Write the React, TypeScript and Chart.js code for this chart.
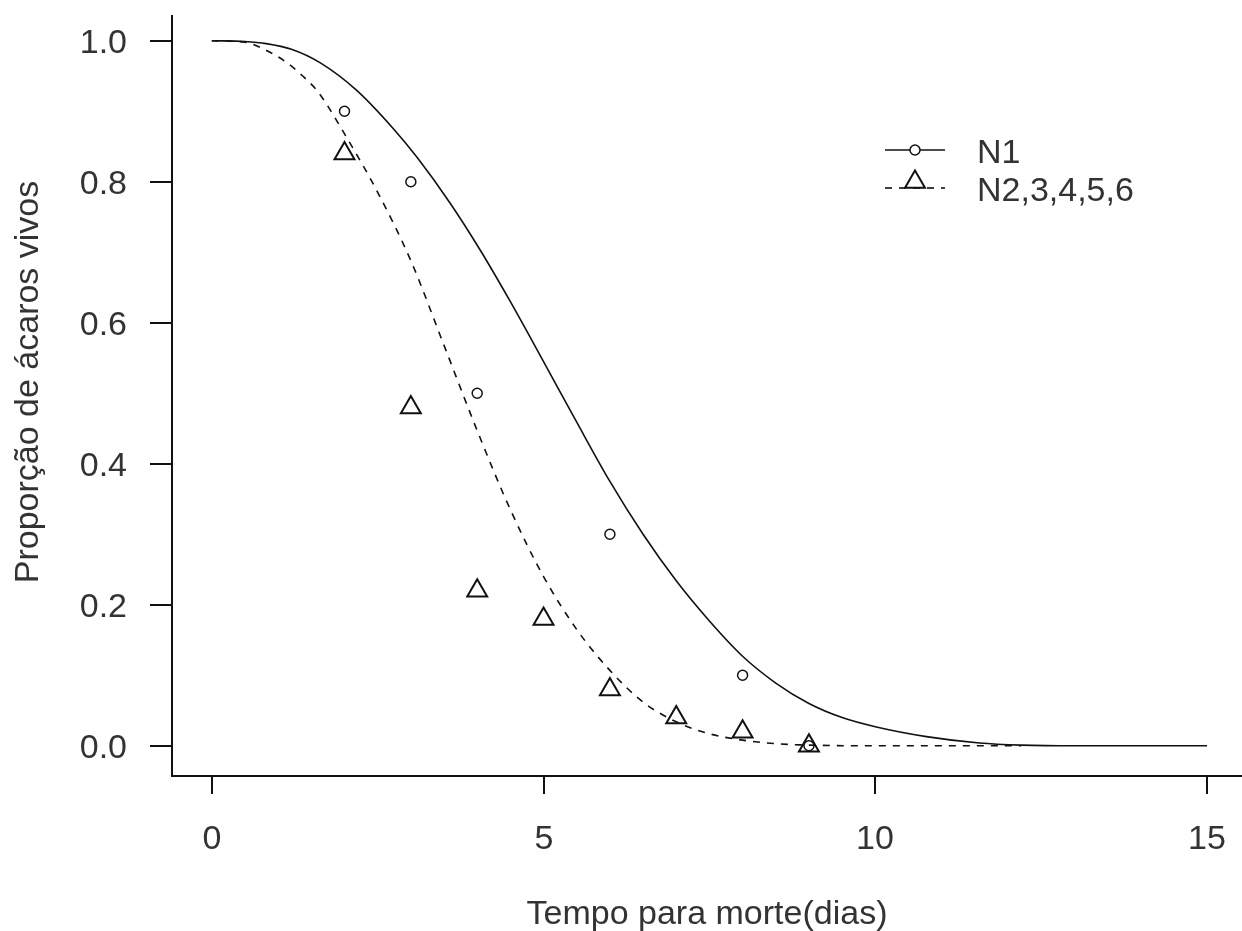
import React, { useEffect, useRef } from "react";
import { Chart, registerables } from "chart.js";

Chart.register(...registerables);

// Fitted survival curves (time in days, proportion alive)
const n1CurveT = [0, 0.5, 0.82, 1.2, 1.63, 2.18, 2.73, 3.09, 3.59, 4.04, 4.5, 5.0, 5.5, 6.0, 6.5, 7.0, 7.5, 8.0, 8.5, 9.0, 9.5, 10.0, 10.77, 11.57, 12.2, 13, 15];
const n1CurveS = [1.0, 0.999, 0.996, 0.988, 0.969, 0.93, 0.876, 0.835, 0.77, 0.704, 0.63, 0.545, 0.459, 0.375, 0.3, 0.234, 0.177, 0.127, 0.089, 0.06, 0.04, 0.027, 0.013, 0.004, 0.001, 0, 0];

const n2CurveT = [0, 0.5, 0.87, 1.13, 1.37, 1.58, 1.73, 2.0, 2.5, 3.0, 3.5, 4.0, 4.5, 5.0, 5.5, 6.0, 6.5, 7.0, 7.5, 8.0, 8.5, 9.0, 10, 11, 12.2];
const n2CurveS = [1.0, 0.998, 0.984, 0.969, 0.95, 0.93, 0.91, 0.868, 0.785, 0.688, 0.568, 0.447, 0.335, 0.24, 0.165, 0.107, 0.062, 0.034, 0.017, 0.008, 0.003, 0.001, 0, 0, 0];

// Observed proportions
const n1Days = [2, 3, 4, 6, 8, 9];
const n1Obs = [0.9, 0.8, 0.5, 0.3, 0.1, 0.0];
const n2Days = [2, 3, 4, 5, 6, 7, 8, 9];
const n2Obs = [0.84, 0.48, 0.22, 0.18, 0.08, 0.04, 0.02, 0.0];

// Axis ticks and labels
const xTicks = [0, 5, 10, 15];
const xTickLabels = ["0", "5", "10", "15"];
const yTicks = [0, 0.2, 0.4, 0.6, 0.8, 1.0];
const yTickLabels = ["0.0", "0.2", "0.4", "0.6", "0.8", "1.0"];
const xTitle = "Tempo para morte(dias)";
const yTitle = "Proporção de ácaros vivos";
const legendLabels = ["N1", "N2,3,4,5,6"];

const FONT = '34px "Liberation Sans", Arial, sans-serif';
const TEXT = "#333";
const INK = "#111";

const toPoints = (xs: number[], ys: number[]) => xs.map((x, i) => ({ x, y: ys[i] }));

function drawTriangle(ctx: CanvasRenderingContext2D, x: number, y: number, r: number) {
  const s = Math.sin(Math.PI / 3) * r;
  ctx.beginPath();
  ctx.moveTo(x, y - r);
  ctx.lineTo(x + s, y + r / 2);
  ctx.lineTo(x - s, y + r / 2);
  ctx.closePath();
  ctx.stroke();
}

const axesPlugin = {
  id: "baseAxes",
  afterDraw(chart: any) {
    const ctx: CanvasRenderingContext2D = chart.ctx;
    const xs = chart.scales.x;
    const ys = chart.scales.y;
    const area = chart.chartArea;
    const axisY = 776;
    const axisX = 172;
    ctx.save();
    ctx.strokeStyle = INK;
    ctx.lineWidth = 2;
    ctx.setLineDash([]);
    // axis lines
    ctx.beginPath();
    ctx.moveTo(axisX, area.top + 2);
    ctx.lineTo(axisX, axisY);
    ctx.lineTo(chart.width, axisY);
    ctx.stroke();
    // x ticks
    ctx.font = FONT;
    ctx.fillStyle = TEXT;
    ctx.textAlign = "center";
    ctx.textBaseline = "alphabetic";
    xTicks.forEach((v, i) => {
      const px = Math.round(xs.getPixelForValue(v));
      ctx.beginPath();
      ctx.moveTo(px, axisY);
      ctx.lineTo(px, axisY + 18);
      ctx.stroke();
      ctx.fillText(xTickLabels[i], px, 849);
    });
    // y ticks
    ctx.textAlign = "right";
    yTicks.forEach((v, i) => {
      const py = Math.round(ys.getPixelForValue(v));
      ctx.beginPath();
      ctx.moveTo(axisX, py);
      ctx.lineTo(axisX - 22, py);
      ctx.stroke();
      ctx.fillText(yTickLabels[i], 127, py + 12);
    });
    // axis titles
    ctx.textAlign = "center";
    ctx.fillText(xTitle, 707, 924);
    ctx.save();
    ctx.translate(38, 382);
    ctx.rotate(-Math.PI / 2);
    ctx.fillText(yTitle, 0, 0);
    ctx.restore();

    // legend
    ctx.lineWidth = 1.6;
    ctx.strokeStyle = INK;
    ctx.beginPath();
    ctx.moveTo(885, 150);
    ctx.lineTo(945, 150);
    ctx.stroke();
    ctx.fillStyle = "#fff";
    ctx.beginPath();
    ctx.arc(915, 150, 5, 0, Math.PI * 2);
    ctx.fill();
    ctx.lineWidth = 1.5;
    ctx.stroke();

    ctx.lineWidth = 1.6;
    ctx.setLineDash([7, 7]);
    ctx.beginPath();
    ctx.moveTo(885, 188);
    ctx.lineTo(945, 188);
    ctx.stroke();
    ctx.setLineDash([]);
    ctx.lineWidth = 2;
    drawTriangle(ctx, 915, 182, 11.5);

    ctx.fillStyle = TEXT;
    ctx.textAlign = "left";
    ctx.fillText(legendLabels[0], 977, 163);
    ctx.fillText(legendLabels[1], 977, 201);
    ctx.restore();
  },
};

export default function App() {
  const ref = useRef<HTMLCanvasElement | null>(null);

  useEffect(() => {
    if (!ref.current) return;
    const chart = new Chart(ref.current, {
      type: "line",
      data: {
        datasets: [
          {
            label: "N1",
            data: toPoints(n1CurveT, n1CurveS),
            borderColor: INK,
            borderWidth: 1.6,
            pointRadius: 0,
            cubicInterpolationMode: "monotone",
            fill: false,
          },
          {
            label: "N2,3,4,5,6",
            data: toPoints(n2CurveT, n2CurveS),
            borderColor: INK,
            borderWidth: 1.6,
            borderDash: [7, 7],
            pointRadius: 0,
            cubicInterpolationMode: "monotone",
            fill: false,
          },
          {
            label: "N1 obs",
            data: toPoints(n1Days, n1Obs),
            showLine: false,
            pointStyle: "circle",
            pointRadius: 5,
            pointBorderWidth: 1.5,
            pointBorderColor: INK,
            pointBackgroundColor: "rgba(0,0,0,0)",
          },
          {
            label: "N2 obs",
            data: toPoints(n2Days, n2Obs),
            showLine: false,
            pointStyle: "triangle",
            pointRadius: 11.5,
            pointBorderWidth: 2,
            pointBorderColor: INK,
            pointBackgroundColor: "rgba(0,0,0,0)",
          },
        ],
      },
      options: {
        responsive: false,
        animation: false,
        events: [],
        layout: { autoPadding: false, padding: { left: 172, top: 13, right: 0, bottom: 157 } },
        plugins: { legend: { display: false }, tooltip: { enabled: false } },
        scales: {
          x: { type: "linear", display: false, min: -0.6, max: 15.527 },
          y: { type: "linear", display: false, min: -0.04, max: 1.0394 },
        },
      },
      plugins: [axesPlugin],
    });
    return () => chart.destroy();
  }, []);

  return (
    <div style={{ position: "absolute", left: 0, top: 0, width: 1242, height: 931, background: "#fff" }}>
      <canvas ref={ref} width={1242} height={931} />
    </div>
  );
}
